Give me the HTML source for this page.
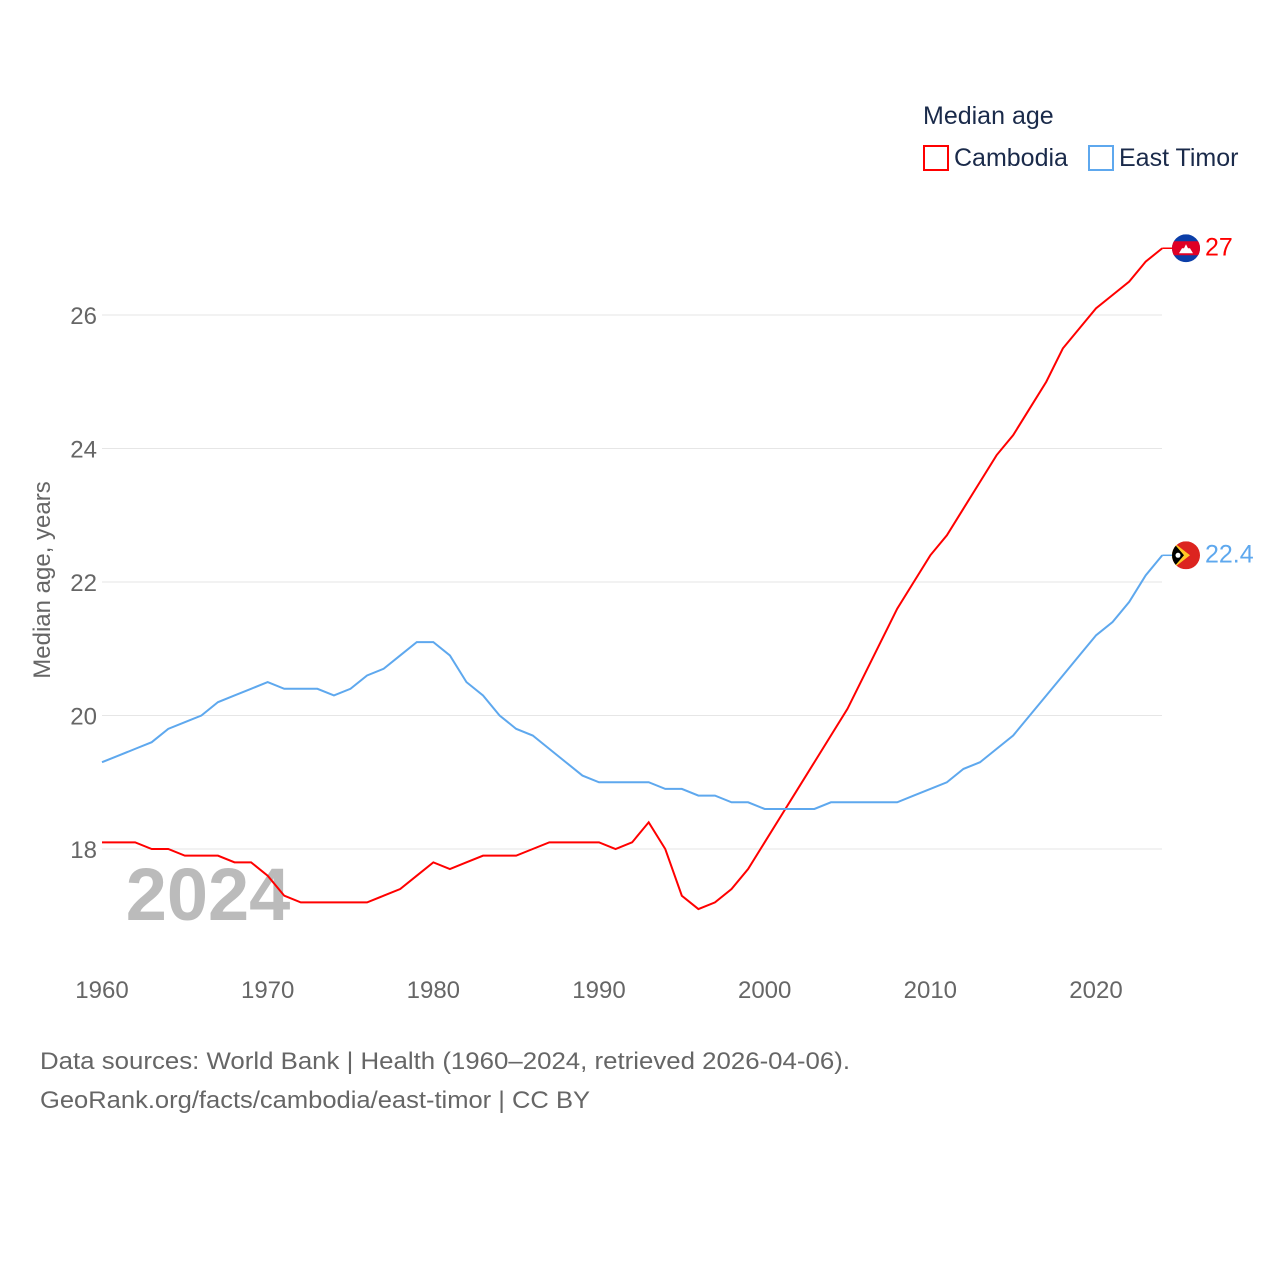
<!DOCTYPE html>
<html><head><meta charset="utf-8"><style>
body{margin:0;background:#fff;font-family:"Liberation Sans",sans-serif}
</style></head><body>
<svg width="1280" height="1280" xmlns="http://www.w3.org/2000/svg" font-family="Liberation Sans, sans-serif">
<rect width="1280" height="1280" fill="#fff"/>
<g id="grid"></g>
<g id="yticks" fill="#666" font-size="24" text-anchor="end"></g>
<g id="xticks" fill="#666" font-size="24" text-anchor="middle"></g>
<text x="208" y="920" font-size="74" font-weight="bold" fill="#bbb" text-anchor="middle">2024</text>
<text transform="translate(50,580) rotate(-90)" font-size="24" fill="#666" text-anchor="middle">Median age, years</text>
<g id="lines"></g>
<g>
<text x="923" y="124" font-size="25" fill="#1a2a4a">Median age</text>
<g><rect x="924" y="146" width="24" height="24" fill="none" stroke="#f00" stroke-width="2"/><text x="954" y="166" font-size="25" fill="#1a2a4a">Cambodia</text></g>
<g><rect x="1089" y="146" width="24" height="24" fill="none" stroke="#5ea8ee" stroke-width="2"/><text x="1119" y="166" font-size="25" fill="#1a2a4a">East Timor</text></g>
</g>
<text x="40" y="1069" font-size="24" fill="#666" textLength="810" lengthAdjust="spacingAndGlyphs">Data sources: World Bank | Health (1960–2024, retrieved 2026-04-06).</text>
<text x="40" y="1108" font-size="24" fill="#666" textLength="550" lengthAdjust="spacingAndGlyphs">GeoRank.org/facts/cambodia/east-timor | CC BY</text>
</svg>
<script>
const years=[];for(let y=1960;y<=2024;y++)years.push(y);
const cambodia=[18.1,18.1,18.1,18.0,18.0,17.9,17.9,17.9,17.8,17.8,17.6,17.3,17.2,17.2,17.2,17.2,17.2,17.3,17.4,17.6,17.8,17.7,17.8,17.9,17.9,17.9,18.0,18.1,18.1,18.1,18.1,18.0,18.1,18.4,18.0,17.3,17.1,17.2,17.4,17.7,18.1,18.5,18.9,19.3,19.7,20.1,20.6,21.1,21.6,22.0,22.4,22.7,23.1,23.5,23.9,24.2,24.6,25.0,25.5,25.8,26.1,26.3,26.5,26.8,27.0];
const eastTimor=[19.3,19.4,19.5,19.6,19.8,19.9,20.0,20.2,20.3,20.4,20.5,20.4,20.4,20.4,20.3,20.4,20.6,20.7,20.9,21.1,21.1,20.9,20.5,20.3,20.0,19.8,19.7,19.5,19.3,19.1,19.0,19.0,19.0,19.0,18.9,18.9,18.8,18.8,18.7,18.7,18.6,18.6,18.6,18.6,18.7,18.7,18.7,18.7,18.7,18.8,18.9,19.0,19.2,19.3,19.5,19.7,20.0,20.3,20.6,20.9,21.2,21.4,21.7,22.1,22.4];
const yTicks=[18,20,22,24,26];
const xTicks=[1960,1970,1980,1990,2000,2010,2020];
const NS="http://www.w3.org/2000/svg";
const xs=y=>102+(y-1960)*(994/60);
const ys=v=>849-(v-18)*66.75;
const grid=document.getElementById('grid'),yt=document.getElementById('yticks'),xt=document.getElementById('xticks'),lines=document.getElementById('lines');
yTicks.forEach(t=>{
 const l=document.createElementNS(NS,'line');
 l.setAttribute('x1',102);l.setAttribute('x2',1162);l.setAttribute('y1',ys(t));l.setAttribute('y2',ys(t));l.setAttribute('stroke','#e6e6e6');
 
 
 grid.appendChild(l);
 const tx=document.createElementNS(NS,'text');
 tx.setAttribute('x',97);tx.setAttribute('y',ys(t)+9);tx.textContent=t;
 
 
 yt.appendChild(tx);
});
xTicks.forEach(t=>{
 const tx=document.createElementNS(NS,'text');
 tx.setAttribute('x',xs(t));tx.setAttribute('y',998);tx.textContent=t;
 
 
 xt.appendChild(tx);
});
function series(vals,color,name,flagFn){
 const p=document.createElementNS(NS,'polyline');
 p.setAttribute('points',vals.map((v,i)=>xs(years[i])+','+ys(v)).join(' '));
 p.setAttribute('fill','none');p.setAttribute('stroke',color);p.setAttribute('stroke-width','2');
 
 
 lines.appendChild(p);
 const last=vals[vals.length-1],cy=ys(last);
 const c=document.createElementNS(NS,'line');
 c.setAttribute('x1',xs(years[years.length-1]));c.setAttribute('x2',1176);c.setAttribute('y1',cy);c.setAttribute('y2',cy);
 c.setAttribute('stroke',color);c.setAttribute('stroke-width','1.5');
 
 
 lines.appendChild(c);
 const g=document.createElementNS(NS,'g');
 
 
 g.innerHTML=flagFn(1186,cy);
 lines.appendChild(g);
 const tx=document.createElementNS(NS,'text');
 tx.setAttribute('x',1205);tx.setAttribute('y',cy+7);tx.setAttribute('fill',color);tx.setAttribute('font-size','25');tx.textContent=last;
 
 
 lines.appendChild(tx);
}
series(cambodia,'#f00','cambodia',(x,y)=>`<clipPath id="c1"><circle cx="${x}" cy="${y}" r="14"/></clipPath><g clip-path="url(#c1)"><rect x="${x-14}" y="${y-14}" width="28" height="28" fill="#0b3ea8"/><rect x="${x-14}" y="${y-7}" width="28" height="14" fill="#e00025"/><path d="M${x-7} ${y+5}h14l-3-5h-2l-2-4-2 4h-2z" fill="#fff"/></g>`);
series(eastTimor,'#5ea8ee','east-timor',(x,y)=>`<clipPath id="c2"><circle cx="${x}" cy="${y}" r="14"/></clipPath><g clip-path="url(#c2)"><rect x="${x-14}" y="${y-14}" width="28" height="28" fill="#dc241f"/><path d="M${x-14} ${y-14}L${x+4} ${y}L${x-14} ${y+14}z" fill="#ffc726"/><path d="M${x-14} ${y-14}L${x-2} ${y}L${x-14} ${y+14}z" fill="#000"/><circle cx="${x-8}" cy="${y}" r="2.5" fill="#fff"/></g>`);
</script>
</body></html>
